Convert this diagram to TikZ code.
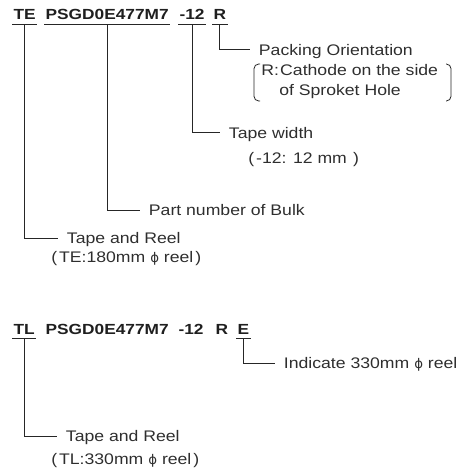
\documentclass[tikz,border=0pt]{standalone}
\usepackage{fontspec}
\setmainfont[FakeStretch=1.15, BoldFeatures={FakeStretch=1.18}]{Liberation Sans}
\newfontfamily\phifont{DejaVu Sans}
\usepackage{tikz}
\usetikzlibrary{positioning}

\newcommand{\phisym}{{\phifont\fontsize{10pt}{12pt}\selectfont ϕ}}

\begin{document}
\begin{tikzpicture}[
    x=0.75pt, y=-0.75pt,
    code/.style={font=\fontsize{11pt}{13pt}\selectfont\bfseries, text=black!88, anchor=base west, inner xsep=1pt, inner ysep=3pt, text depth=0pt},
    desc/.style={font=\fontsize{11.5pt}{14pt}\selectfont, text=black!82, anchor=west, inner xsep=6.5pt, inner ysep=0pt, text height=8.2pt, text depth=0pt},
    note/.style={font=\fontsize{11.5pt}{14pt}\selectfont, text=black!82, anchor=base west, inner sep=0pt},
    uline/.style={draw=black!85, line width=0.75pt},
    lead/.style={draw=black!85, line width=0.75pt},
    brace/.style={draw=black!85, line width=0.6pt, rounded corners=3.5pt}
]
    \useasboundingbox (0,0) rectangle (466,474);

    % Part number, 180mm reel
    \node[code] (TE) at (12, 20) {TE};
    \node[code] (PART) at (44, 20) {PSGD0E477M7};
    \node[code] (WIDTH) at (178, 20) {-12};
    \node[code] (ORIENT) at (212, 20) {R};
    \draw[uline] (TE.south west) -- (TE.south east);
    \draw[uline] (PART.south west) -- (PART.south east);
    \draw[uline] (WIDTH.south west) -- (WIDTH.south east);
    \draw[uline] (ORIENT.south west) -- (ORIENT.south east);

    % Packing orientation
    \node[desc] (ORIENTtxt) at (250, 50) {Packing Orientation};
    \node[note] (ORIENTa) at (261, 75.5) {R:\hspace{1pt}Cathode on the side};
    \node[note] (ORIENTb) at (279, 95.5) {of Sproket Hole};
    \draw[brace] (260, 64) -- (254, 64) -- (254, 101) -- (260, 101);
    \draw[brace] (446, 64) -- (451, 64) -- (451, 101) -- (446, 101);
    \draw[lead] (ORIENT.south) |- (ORIENTtxt.west);

    % Tape width
    \node[desc] (WIDTHtxt) at (220, 133) {Tape width};
    \node[note] (WIDTHa) at (248, 163) {(\hspace{1.5pt}-12: 12 mm\hspace{1pt} )};
    \draw[lead] (WIDTH.south) |- (WIDTHtxt.west);

    % Bulk part number
    \node[desc] (PARTtxt) at (140, 210) {Part number of Bulk};
    \draw[lead] (PART.south) |- (PARTtxt.west);

    % Tape and reel
    \node[desc] (TEtxt) at (58, 238) {Tape and Reel};
    \node[note] (TEa) at (51, 262) {(\hspace{1.5pt}TE:180mm \phisym\ reel\hspace{1.5pt})};
    \draw[lead] (TE.south) |- (TEtxt.west);

    % Part number, 330mm reel
    \node[code] (TL) at (12, 334) {TL};
    \node[code] (PARTb) at (44, 334) {PSGD0E477M7};
    \node[code] (WIDTHb) at (177, 334) {-12};
    \node[code] (ORIENTb2) at (214, 334) {R};
    \node[code] (REEL) at (236, 334) {E};
    \draw[uline] (TL.south west) -- (TL.south east);
    \draw[uline] (REEL.south west) -- (REEL.south east);

    \node[desc] (REELtxt) at (275, 363) {Indicate 330mm \phisym\ reel};
    \draw[lead] (REEL.south) |- (REELtxt.west);

    \node[desc] (TLtxt) at (57, 436.5) {Tape and Reel};
    \node[note] (TLa) at (51, 464) {(\hspace{1.5pt}TL:330mm \phisym\ reel\hspace{1.5pt})};
    \draw[lead] (TL.south) |- (TLtxt.west);
\end{tikzpicture}
\end{document}
